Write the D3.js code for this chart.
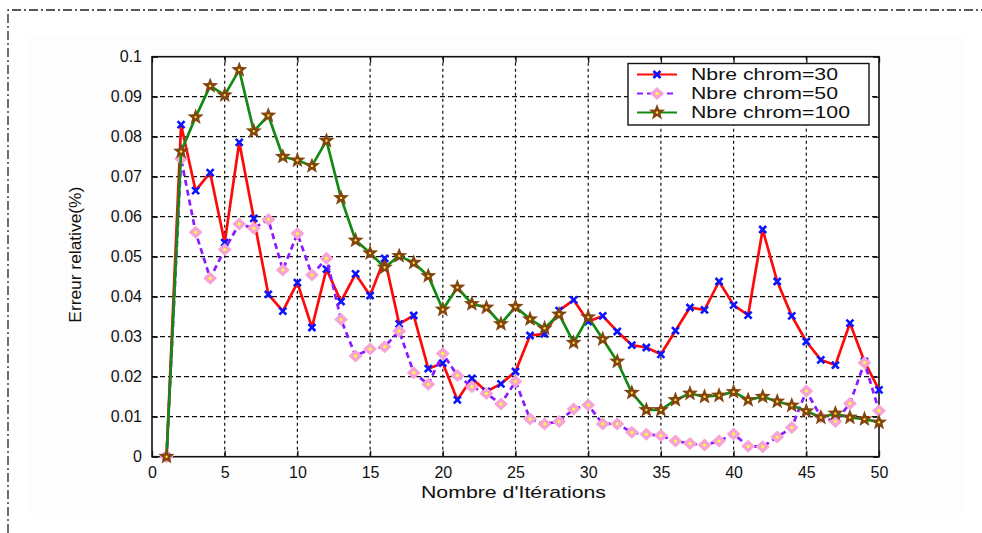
<!DOCTYPE html>
<html>
<head>
<meta charset="utf-8">
<script src="https://cdn.jsdelivr.net/npm/d3@7/dist/d3.min.js"></script>
<style>
  html, body { margin: 0; padding: 0; background: #ffffff; }
  svg { display: block; }
  text { font-family: "Liberation Sans", Arial, sans-serif; fill: #111; }
</style>
</head>
<body>
<svg id="chart" width="982" height="533"></svg>
<script>
// Iteration index (1..50)
const iterations = d3.range(1, 51);

// Relative error per iteration, one array per population size
const err30 = [
  0, 0.083, 0.0665, 0.071, 0.0535, 0.0786, 0.0596, 0.0406, 0.0364, 0.0435,
  0.0323, 0.0469, 0.0388, 0.0457, 0.0403, 0.0496, 0.0332, 0.0353, 0.0220, 0.0234,
  0.0142, 0.0196, 0.0163, 0.0182, 0.0213, 0.0303, 0.0307, 0.0365, 0.0392, 0.0338,
  0.0352, 0.0313, 0.0279, 0.0273, 0.0256, 0.0315, 0.0373, 0.0367, 0.0438, 0.0379,
  0.0354, 0.0568, 0.0438, 0.0352, 0.0288, 0.0242, 0.0229, 0.0334, 0.0238, 0.0167
];
const err50 = [
  0, 0.0745, 0.0561, 0.0446, 0.0518, 0.0582, 0.0571, 0.0593, 0.0467, 0.0558,
  0.0454, 0.0496, 0.0343, 0.0252, 0.0269, 0.0275, 0.0314, 0.0210, 0.0181, 0.0258,
  0.0203, 0.0175, 0.0158, 0.0132, 0.0188, 0.0094, 0.0082, 0.0088, 0.0119, 0.0129,
  0.0082, 0.0082, 0.0061, 0.0056, 0.0053, 0.0039, 0.0033, 0.0029, 0.0039, 0.0057,
  0.0026, 0.0025, 0.0049, 0.0073, 0.0164, 0.0100, 0.0088, 0.0133, 0.0235, 0.0115
];
const err100 = [
  0, 0.0763, 0.0849, 0.0927, 0.0904, 0.0967, 0.0814, 0.0853, 0.0750, 0.0741,
  0.0727, 0.0790, 0.0647, 0.0541, 0.0509, 0.0473, 0.0502, 0.0485, 0.0452, 0.0368,
  0.0423, 0.0382, 0.0373, 0.0332, 0.0375, 0.0344, 0.0321, 0.0356, 0.0285, 0.0349,
  0.0294, 0.0238, 0.0160, 0.0117, 0.0117, 0.0142, 0.0158, 0.0150, 0.0153, 0.0162,
  0.0142, 0.0150, 0.0138, 0.0128, 0.0114, 0.0098, 0.0108, 0.0098, 0.0094, 0.0086
];

const seriesNames = ["Nbre chrom=30", "Nbre chrom=50", "Nbre chrom=100"];
const xTicks = [0, 5, 10, 15, 20, 25, 30, 35, 40, 45, 50];
const yTicks = [0, 0.01, 0.02, 0.03, 0.04, 0.05, 0.06, 0.07, 0.08, 0.09, 0.1];
const yTickLabels = ["0", "0.01", "0.02", "0.03", "0.04", "0.05", "0.06", "0.07", "0.08", "0.09", "0.1"];
const xTitle = "Nombre d'Itérations";
const yTitle = "Erreur relative(%)";

const svg = d3.select("#chart");

// Figure background and dash-dot page frame
svg.append("rect").attr("x", 28).attr("y", 36).attr("width", 938).attr("height", 478)
  .attr("fill", "#fdfdfd");
svg.append("path")
  .attr("d", "M8,533V10H982")
  .attr("fill", "none").attr("stroke", "#222").attr("stroke-width", 1.3)
  .attr("stroke-dasharray", "9,3,2,3");

// Axes box
const box = { left: 152, right: 879, top: 56.7, bottom: 456.7 };
const x = d3.scaleLinear().domain([0, 50]).range([box.left, box.right]);
const y = d3.scaleLinear().domain([0, 0.1]).range([box.bottom, box.top]);

const plot = svg.append("g");
plot.append("rect")
  .attr("x", box.left).attr("y", box.top)
  .attr("width", box.right - box.left).attr("height", box.bottom - box.top)
  .attr("fill", "#ffffff");

// Grid
plot.append("g").selectAll("line").data(xTicks.slice(1, -1)).join("line")
  .attr("x1", d => x(d)).attr("x2", d => x(d))
  .attr("y1", box.top).attr("y2", box.bottom)
  .attr("stroke", "#111").attr("stroke-width", 1.2).attr("stroke-dasharray", "3,3");
plot.append("g").selectAll("line").data(yTicks.slice(1, -1)).join("line")
  .attr("x1", box.left).attr("x2", box.right)
  .attr("y1", d => y(d)).attr("y2", d => y(d))
  .attr("stroke", "#111").attr("stroke-width", 1.2).attr("stroke-dasharray", "5,3");

// Axes with inward ticks on all four sides
const tickLen = 6;
const xAxis = d3.axisBottom(x).tickValues(xTicks).tickSizeInner(-tickLen).tickSizeOuter(0).tickPadding(10);
const yAxis = d3.axisLeft(y).tickValues(yTicks).tickSizeInner(-tickLen).tickSizeOuter(0).tickPadding(10)
  .tickFormat((d, i) => yTickLabels[i]);

const gx = plot.append("g").attr("transform", `translate(0,${box.bottom})`).call(xAxis);
const gy = plot.append("g").attr("transform", `translate(${box.left},0)`).call(yAxis);
plot.append("g").attr("transform", `translate(0,${box.top})`)
  .call(d3.axisTop(x).tickValues(xTicks).tickSizeInner(-tickLen).tickSizeOuter(0).tickFormat(""));
plot.append("g").attr("transform", `translate(${box.right},0)`)
  .call(d3.axisRight(y).tickValues(yTicks).tickSizeInner(-tickLen).tickSizeOuter(0).tickFormat(""));

svg.selectAll(".domain").remove();
svg.selectAll(".tick line").attr("stroke", "#111").attr("stroke-width", 1.3);
[gx, gy].forEach(g => g.selectAll("text")
  .attr("font-family", "Liberation Sans, Arial, sans-serif")
  .attr("font-size", 16).attr("fill", "#111"));

plot.append("rect")
  .attr("x", box.left).attr("y", box.top)
  .attr("width", box.right - box.left).attr("height", box.bottom - box.top)
  .attr("fill", "none").attr("stroke", "#111").attr("stroke-width", 1.6);

// Axis titles
svg.append("text").attr("x", (box.left + box.right) / 2 - 2).attr("y", 498)
  .attr("text-anchor", "middle").attr("font-size", 17)
  .attr("textLength", 185).attr("lengthAdjust", "spacingAndGlyphs")
  .text(xTitle);
svg.append("text")
  .attr("transform", `translate(81,${(box.top + box.bottom) / 2 - 2}) rotate(-90)`)
  .attr("text-anchor", "middle").attr("font-size", 16)
  .attr("textLength", 136).attr("lengthAdjust", "spacingAndGlyphs")
  .text(yTitle);

// Marker shapes
function starPath(ro, ri) {
  const pts = [];
  for (let k = 0; k < 10; k++) {
    const a = -Math.PI / 2 + k * Math.PI / 5;
    const r = k % 2 === 0 ? ro : ri;
    pts.push([r * Math.cos(a), r * Math.sin(a)]);
  }
  return "M" + pts.map(p => p[0].toFixed(2) + "," + p[1].toFixed(2)).join("L") + "Z";
}
const markers = {
  cross: g => g.append("path").attr("d", "M-3.5,-3.5L3.5,3.5M-3.5,3.5L3.5,-3.5")
    .attr("stroke", "#0a14ff").attr("stroke-width", 2.6).attr("fill", "none"),
  diamond: g => {
    g.append("path").attr("d", "M0,-6.5L7,0L0,6.5L-7,0Z").attr("fill", "#f7a3d6");
    g.append("circle").attr("r", 1.6).attr("fill", "#ffff30");
  },
  star: g => {
    g.append("path").attr("d", starPath(8.5, 3.6)).attr("fill", "#83460f");
    g.append("circle").attr("r", 1.2).attr("fill", "#ffe040");
  }
};

const series = [
  { name: seriesNames[0], values: err30, color: "#ff0a0a", dash: null, width: 2.7, marker: "cross" },
  { name: seriesNames[1], values: err50, color: "#8a1cff", dash: "6,4", width: 2.7, marker: "diamond" },
  { name: seriesNames[2], values: err100, color: "#148a14", dash: null, width: 2.7, marker: "star" }
];

const line = d3.line().x((d, i) => x(iterations[i])).y(d => y(d));

series.forEach(s => {
  plot.append("path").datum(s.values)
    .attr("d", line)
    .attr("fill", "none").attr("stroke", s.color).attr("stroke-width", s.width)
    .attr("stroke-linejoin", "round")
    .attr("stroke-dasharray", s.dash);
  plot.append("g").selectAll("g").data(s.values).join("g")
    .attr("transform", (d, i) => `translate(${x(iterations[i])},${y(d)})`)
    .each(function () { markers[s.marker](d3.select(this)); });
});

// Legend
const lg = svg.append("g");
lg.append("rect").attr("x", 628).attr("y", 63.5).attr("width", 241).attr("height", 61.5)
  .attr("fill", "#ffffff").attr("stroke", "#111").attr("stroke-width", 1.4);
const legendWidths = [147, 147, 159];
series.forEach((s, i) => {
  const yy = 74.5 + i * 19;
  lg.append("line").attr("x1", 637).attr("x2", 677).attr("y1", yy).attr("y2", yy)
    .attr("stroke", s.color).attr("stroke-width", 2.2).attr("stroke-dasharray", s.dash);
  const m = lg.append("g").attr("transform", `translate(657,${yy})`);
  markers[s.marker](m);
  lg.append("text").attr("x", 691).attr("y", yy + 5.5)
    .attr("font-size", 16)
    .attr("textLength", legendWidths[i]).attr("lengthAdjust", "spacingAndGlyphs")
    .text(s.name);
});
</script>
</body>
</html>
